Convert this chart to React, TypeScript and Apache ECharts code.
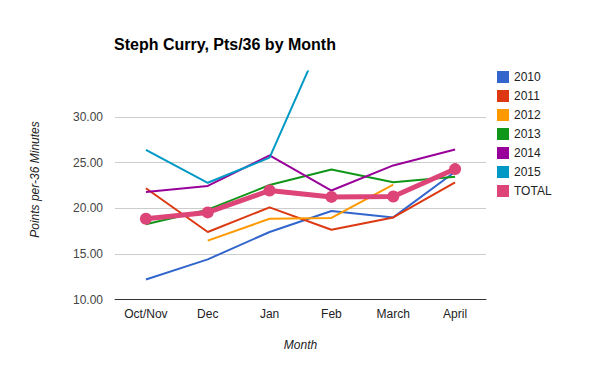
import React, { useEffect, useRef } from "react";
import * as echarts from "echarts";

const months = ["Oct/Nov", "Dec", "Jan", "Feb", "March", "April"];
const s2010 = [12.2, 14.4, 17.4, 19.7, 19.0, 24.0];
const s2011 = [22.2, 17.4, 20.1, 17.65, 19.0, 22.85];
const s2012 = [null, 16.45, 18.85, 18.95, 22.6, null];
const s2013 = [18.25, 19.85, 22.55, 24.25, 22.85, 23.45];
const s2014 = [21.8, 22.45, 25.8, 21.95, 24.7, 26.45];
const s2015 = [26.4, 22.8, 25.55, 40.9, null, null];
const sTotal = [18.85, 19.55, 21.95, 21.25, 21.3, 24.3];

const seriesNames = ["2010", "2011", "2012", "2013", "2014", "2015", "TOTAL"];
const seriesData = [s2010, s2011, s2012, s2013, s2014, s2015, sTotal];
const colors = ["#3366cc", "#dc3912", "#ff9900", "#109618", "#990099", "#0099c6", "#dd4477"];

const FONT = "'Liberation Sans', Arial, sans-serif";

export default function App() {
  const ref = useRef<HTMLDivElement>(null);
  useEffect(() => {
    if (!ref.current) return;
    const chart = echarts.init(ref.current, null, { renderer: "svg" });
    chart.setOption({
      animation: false,
      color: colors,
      textStyle: { fontFamily: FONT },
      title: {
        text: "Steph Curry, Pts/36 by Month",
        left: 114,
        top: 36,
        padding: 0,
        textStyle: { fontFamily: FONT, fontSize: 16, fontWeight: "bold", color: "#000" },
      },
      legend: {
        orient: "vertical",
        left: 497,
        top: 71,
        padding: 0,
        itemWidth: 12,
        itemHeight: 12,
        itemGap: 7,
        icon: "rect",
        textStyle: { fontFamily: FONT, fontSize: 12, color: "#222", lineHeight: 12 },
        data: seriesNames,
      },
      grid: { left: 115, right: 114, top: 71.5, bottom: 71.5, containLabel: false },
      xAxis: {
        type: "category",
        data: months,
        boundaryGap: true,
        axisTick: { show: false },
        axisLine: { lineStyle: { color: "#333", width: 1 } },
        axisLabel: { fontFamily: FONT, fontSize: 12, color: "#222", margin: 8 },
        name: "Month",
        nameLocation: "middle",
        nameGap: 39,
        nameTextStyle: { fontFamily: FONT, fontSize: 12, fontStyle: "italic", color: "#222" },
      },
      yAxis: {
        type: "value",
        min: 10,
        max: 35,
        interval: 5,
        axisLine: { show: false },
        axisTick: { show: false },
        splitLine: { showMaxLine: false, lineStyle: { color: "#cccccc", width: 1 } },
        axisLabel: {
          fontFamily: FONT,
          fontSize: 12,
          color: "#444",
          margin: 12,
          showMaxLabel: false,
          formatter: (v: number) => (v >= 35 ? "" : v.toFixed(2)),
        },
        name: "Points per-36 Minutes",
        nameLocation: "middle",
        nameGap: 74,
        nameTextStyle: { fontFamily: FONT, fontSize: 12, fontStyle: "italic", color: "#222", padding: [0, 0, 0, 12] },
      },
      series: seriesNames.map((name, i) => {
        const isTotal = name === "TOTAL";
        return {
          name,
          type: "line",
          data: seriesData[i],
          clip: true,
          connectNulls: false,
          showSymbol: isTotal,
          symbol: "circle",
          symbolSize: isTotal ? 12 : 0,
          lineStyle: { width: isTotal ? 5 : 2, color: colors[i] },
          itemStyle: { color: colors[i] },
          emphasis: { disabled: true },
          z: isTotal ? 3 : 2,
        };
      }),
    });
    return () => chart.dispose();
  }, []);
  return <div ref={ref} style={{ position: "absolute", left: 0, top: 0, width: 600, height: 371 }} />;
}
